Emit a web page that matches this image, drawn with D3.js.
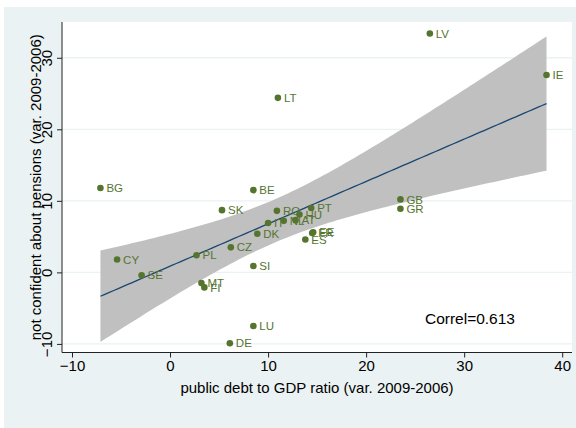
<!DOCTYPE html>
<html>
<head>
<meta charset="utf-8">
<script src="https://cdn.jsdelivr.net/npm/d3@7"></script>
<style>
  html, body { margin: 0; padding: 0; background: #ffffff; }
  svg { display: block; font-family: "Liberation Sans", Arial, sans-serif; }
</style>
</head>
<body>
<svg id="chart" width="576" height="428"></svg>
<script>
// Country codes and their changes 2006-2009
const countries = ["BG","CY","SE","PL","EE","MT","FI","SK","CZ","DE","BE","SI","LU","DK","IT","RO","LT","NL","AT","HU","ES","PT","FR","GR","GB","LV","IE"];
// public debt to GDP ratio, change in points
const debtChange = [-7.1,-5.4,-2.9,2.7,14.6,3.2,3.5,5.3,6.2,6.1,8.5,8.5,8.5,8.9,10.0,10.9,11.0,11.6,12.8,13.2,13.8,14.4,14.5,23.5,23.5,26.5,38.4];
// share not confident about pensions, change in points
const pensionChange = [11.8,1.8,-0.4,2.4,5.6,-1.5,-2.1,8.7,3.5,-9.9,11.5,0.9,-7.5,5.4,6.9,8.6,24.4,7.2,7.3,8.1,4.6,9.0,5.5,8.9,10.2,33.4,27.6];

const xTicks = [-10, 0, 10, 20, 30, 40];
const yTicks = [-10, 0, 10, 20, 30];
const xTitle = "public debt to GDP ratio (var. 2009-2006)";
const yTitle = "not confident about pensions (var. 2009-2006)";
const correlLabel = "Correl=0.613";

const GREEN = "#55752f";
const NAVY = "#1a476f";
const BAND = "#c0c0c0";
const BLUISH = "#eaf2f3";

const svg = d3.select("#chart");
const plot = { left: 62, right: 572, top: 22, bottom: 352.5 };

// outer graph region
svg.append("rect").attr("x", 4).attr("y", 7).attr("width", 572).attr("height", 421).attr("fill", BLUISH);
// plot region
svg.append("rect").attr("x", plot.left).attr("y", plot.top)
  .attr("width", plot.right - plot.left).attr("height", plot.bottom - plot.top).attr("fill", "#ffffff");

const x = d3.scaleLinear().domain([-11.02, 41.0]).range([plot.left, plot.right]);
const y = d3.scaleLinear().domain([-11.2, 35.0]).range([plot.bottom, plot.top]);

// horizontal grid
svg.append("g").selectAll("line").data(yTicks).join("line")
  .attr("x1", plot.left).attr("x2", plot.right)
  .attr("y1", d => y(d)).attr("y2", d => y(d))
  .attr("stroke", BLUISH).attr("stroke-width", 1.3);

// linear fit with 95% confidence band of the mean prediction
const pts = debtChange.map((d, i) => ({ x: d, y: pensionChange[i], name: countries[i] }));
const n = pts.length;
const mx = d3.mean(pts, p => p.x), my = d3.mean(pts, p => p.y);
const sxx = d3.sum(pts, p => (p.x - mx) ** 2);
const sxy = d3.sum(pts, p => (p.x - mx) * (p.y - my));
const slope = sxy / sxx, intercept = my - slope * mx;
const sse = d3.sum(pts, p => (p.y - intercept - slope * p.x) ** 2);
const s = Math.sqrt(sse / (n - 2));
const tcrit = 2.0595; // t(0.975, 25)
const [xmin, xmax] = d3.extent(pts, p => p.x);
const fit = d3.range(0, 101).map(i => {
  const xv = xmin + (xmax - xmin) * i / 100;
  const yh = intercept + slope * xv;
  const se = s * Math.sqrt(1 / n + (xv - mx) ** 2 / sxx);
  return { x: xv, y: yh, lo: yh - tcrit * se, hi: yh + tcrit * se };
});

svg.append("path").datum(fit)
  .attr("d", d3.area().x(d => x(d.x)).y0(d => y(d.lo)).y1(d => y(d.hi)))
  .attr("fill", BAND);
svg.append("path").datum(fit)
  .attr("d", d3.line().x(d => x(d.x)).y(d => y(d.y)))
  .attr("fill", "none").attr("stroke", NAVY).attr("stroke-width", 1.3);

// points and labels
const g = svg.append("g");
g.selectAll("circle").data(pts).join("circle")
  .attr("cx", d => x(d.x)).attr("cy", d => y(d.y)).attr("r", 3.3).attr("fill", GREEN);
g.selectAll("text").data(pts).join("text")
  .attr("x", d => x(d.x) + 6).attr("y", d => y(d.y))
  .attr("dy", "0.36em").attr("font-size", 11.5).attr("fill", GREEN)
  .text(d => d.name);

// axes
const xAxis = d3.axisBottom(x).tickValues(xTicks).tickSize(5).tickPadding(3).tickFormat(d3.format("d"));
const gx = svg.append("g").attr("transform", `translate(0,${plot.bottom})`).call(xAxis);
gx.select(".domain").attr("d", `M${plot.left},0H${plot.right}`).attr("stroke", "#222");
gx.selectAll(".tick line").attr("stroke", "#222");
gx.selectAll(".tick text").attr("font-size", 15).attr("fill", "#000").attr("font-family", null);

const yAxis = d3.axisLeft(y).tickValues(yTicks).tickSize(5).tickFormat(d3.format("d"));
const gy = svg.append("g").attr("transform", `translate(${plot.left},0)`).call(yAxis);
gy.select(".domain").attr("d", `M0,${plot.top}V${plot.bottom}`).attr("stroke", "#222");
gy.selectAll(".tick line").attr("stroke", "#222");
gy.selectAll(".tick text")
  .attr("x", null).attr("dy", null)
  .attr("text-anchor", "middle")
  .attr("transform", "translate(-10,0) rotate(-90)")
  .attr("font-size", 15).attr("fill", "#000").attr("font-family", null);

// axis titles
svg.append("text").attr("x", (plot.left + plot.right) / 2).attr("y", 393)
  .attr("text-anchor", "middle").attr("font-size", 15).attr("fill", "#000").text(xTitle);
svg.append("text")
  .attr("transform", `translate(41,${(plot.top + plot.bottom) / 2}) rotate(-90)`)
  .attr("text-anchor", "middle").attr("font-size", 15).attr("fill", "#000").text(yTitle);

// correlation note
svg.append("text").attr("x", x(26.0)).attr("y", y(-7.2))
  .attr("font-size", 15.5).attr("fill", "#000").text(correlLabel);
</script>
</body>
</html>
